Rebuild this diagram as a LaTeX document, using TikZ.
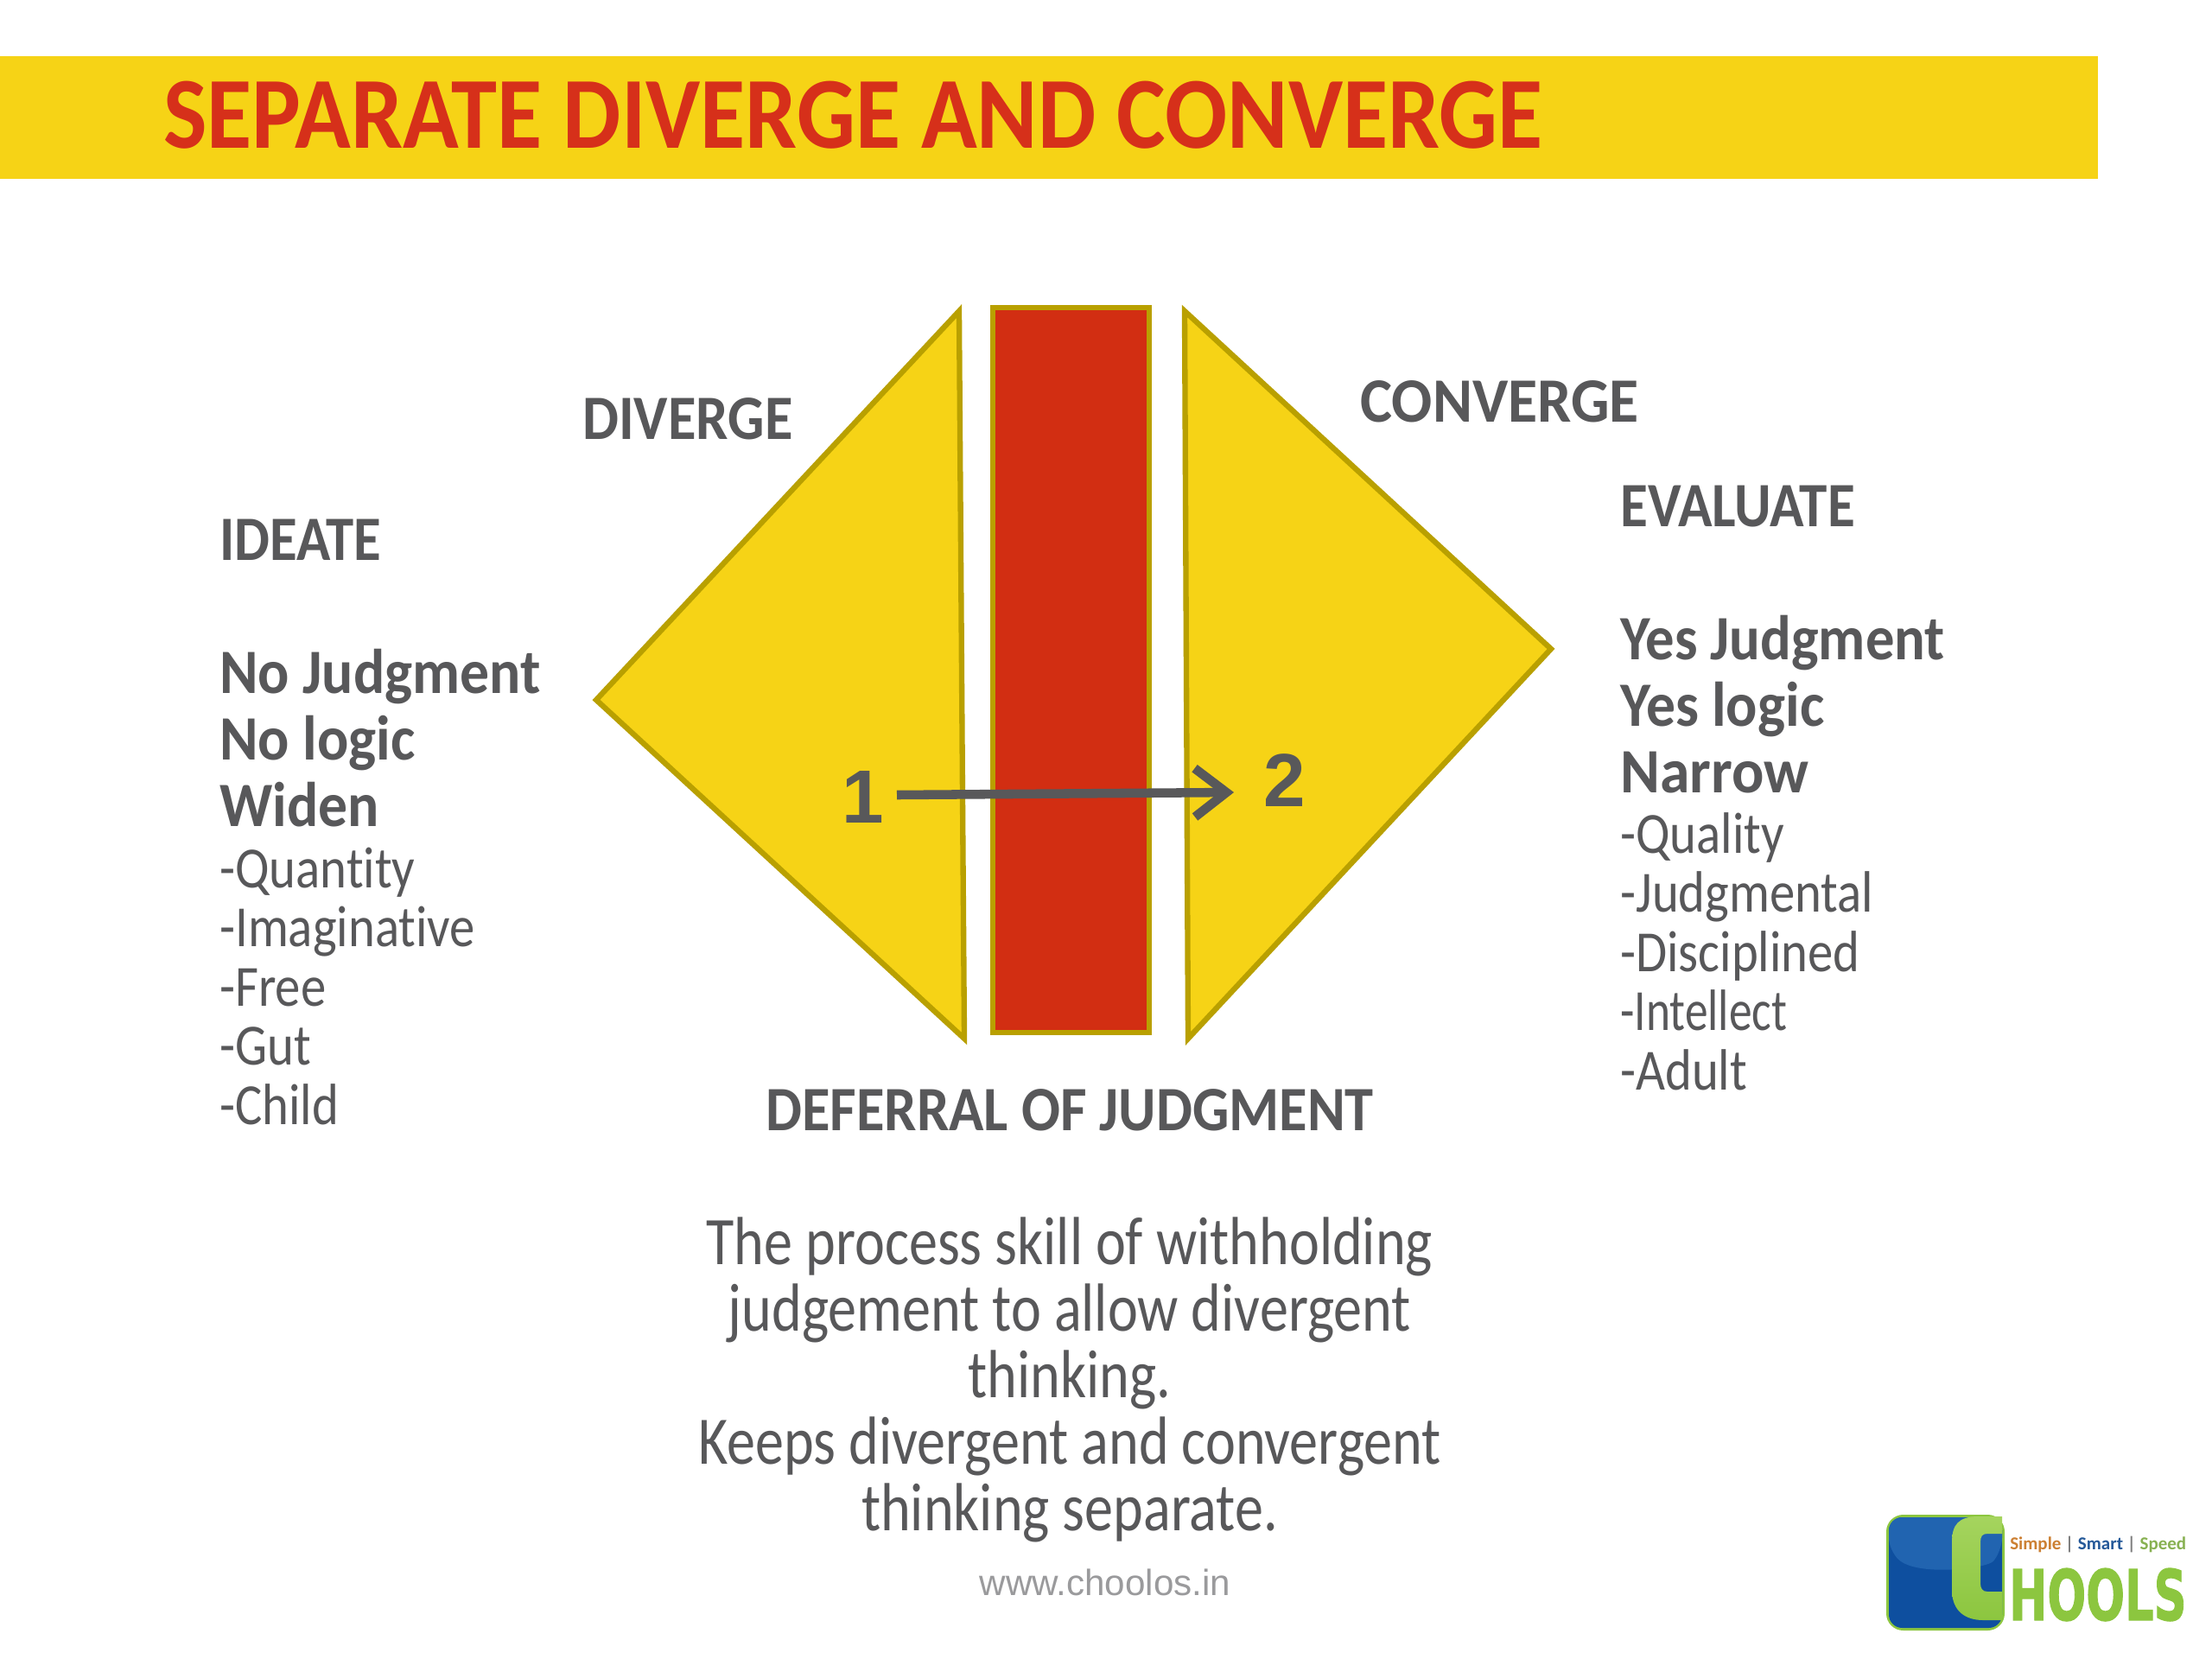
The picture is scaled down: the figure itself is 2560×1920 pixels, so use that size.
\documentclass[tikz,border=0pt]{standalone}
\usepackage{fontspec}
\usetikzlibrary{arrows.meta}
\setmainfont{Carlito}[Ligatures=NoCommon]
\newfontfamily\helv{Liberation Sans}
\newfontfamily\titlefont{Carlito Bold}[FakeStretch=0.904,Ligatures=NoCommon]
\newfontfamily\headfont{Carlito Bold}[FakeStretch=0.91,Ligatures=NoCommon]
\newfontfamily\mainfont{Carlito Bold}[FakeStretch=0.925,Ligatures=NoCommon]
\newfontfamily\subfont{Carlito}[FakeStretch=0.87,Ligatures=NoCommon]
\newfontfamily\parafont{Carlito}[FakeStretch=0.84,Ligatures=NoCommon]
\newfontfamily\logofont{DejaVu Sans Bold}[FakeBold=1.5]
\definecolor{ink}{HTML}{58585A}
\definecolor{banner}{HTML}{F6D316}
\definecolor{edgey}{HTML}{B9A000}
\definecolor{redbar}{HTML}{D22E12}
\definecolor{titlered}{HTML}{D6301A}
\definecolor{webgray}{HTML}{9A9A9C}
\definecolor{logoblue}{HTML}{0E4F9F}
\definecolor{logolight}{HTML}{2164B0}
\definecolor{logogreen}{HTML}{8CC63F}
\definecolor{logopale}{HTML}{A5D45E}
\tikzset{
 txt/.style={anchor=base west,inner sep=0pt,text=ink},
 head/.style={txt,font=\headfont\fontsize{52}{52}\selectfont},
 main/.style={txt,font=\mainfont\fontsize{52}{52}\selectfont},
 sub/.style={txt,font=\subfont\fontsize{48}{48}\selectfont},
 para/.style={anchor=base,inner sep=0pt,text=ink,font=\parafont\fontsize{56}{56}\selectfont},
 tri/.style={fill=banner,draw=edgey,line width=4.5pt,line join=miter,miter limit=20},
 num/.style={anchor=center,inner sep=0pt,text=ink,font=\helv\fontsize{62}{62}\selectfont\bfseries},
}
\begin{document}
\begin{tikzpicture}[x=0.025cm,y=-0.025cm]
\useasboundingbox[fill=white] (0,0) rectangle (2560,1920);
% banner
\fill[banner] (0,65) rectangle (2428,207);
\node[anchor=base west,inner sep=0pt,text=titlered,font=\titlefont\fontsize{84}{84}\selectfont] (title) at (189,171) {SEPARATE DIVERGE AND CONVERGE};
% shapes
\draw[tri] (1110,360) -- (690,810) -- (1116,1202) -- cycle;
\draw[tri] (1371,360) -- (1795,751) -- (1375,1202) -- cycle;
\draw[fill=redbar,draw=edgey,line width=4pt] (1149,356) rectangle (1330,1195);
% arrow
\node[num] (one) at (999,922) {1};
\node[num] (two) at (1487,903) {2};
\coordinate (arrowA) at (1038,920);
\coordinate (arrowB) at (1428,917);
\draw[draw=ink,line width=7.5pt,-{Straight Barb[length=26pt,width=40pt,line width=7.5pt]}] (arrowA) -- (arrowB);
% left
\node[head] (ideate) at (254,648) {\scalebox{0.975}[1]{IDEATE}};
\node[main] (l1) at (254,802) {No Judgment};
\node[main] (l2) at (254,879) {No logic};
\node[main] (l3) at (254,956) {Widen};
\node[sub] (l4) at (254,1027) {-Quantity};
\node[sub] (l5) at (254,1095) {-Imaginative};
\node[sub] (l6) at (254,1164) {-Free};
\node[sub] (l7) at (254,1232) {-Gut};
\node[sub] (l8) at (254,1301) {-Child};
% right
\node[head] (evaluate) at (1875,609) {\scalebox{0.98}[1]{EVALUATE}};
\node[main] (r1) at (1875,763) {\scalebox{0.985}[1]{Yes Judgment}};
\node[main] (r2) at (1875,840) {Yes logic};
\node[main] (r3) at (1875,917) {\scalebox{1.03}[1]{Narrow}};
\node[sub] (r4) at (1875,987) {-Quality};
\node[sub] (r5) at (1875,1055) {-Judgmental};
\node[sub] (r6) at (1875,1124) {-Disciplined};
\node[sub] (r7) at (1875,1192) {\scalebox{0.91}[1]{-Intellect}};
\node[sub] (r8) at (1875,1261) {-Adult};
% labels
\node[head] (diverge) at (674,508) {DIVERGE};
\node[head] (converge) at (1574,488) {\scalebox{1.05}[1]{CONVERGE}};
\node[head,anchor=base] (deferral) at (1238,1308) {DEFERRAL OF JUDGMENT};
% paragraph
\node[para] (p1) at (1238,1463) {The process skill of withholding};
\node[para] (p2) at (1238,1540) {judgement to allow divergent};
\node[para] (p3) at (1238,1617) {thinking.};
\node[para] (p4) at (1238,1694) {Keeps divergent and convergent};
\node[para] (p5) at (1238,1771) {thinking separate.};
\node[anchor=base,inner sep=0pt,text=webgray,font=\helv\fontsize{30}{30}\selectfont] (web) at (1279,1846) {www.choolos.in};
% logo
\fill[logogreen,rounded corners=14] (2183,1753) rectangle (2320,1887);
\fill[logoblue,rounded corners=11] (2186,1756) rectangle (2317,1884);
\fill[logolight,rounded corners=11] (2186,1756) -- (2317,1756) -- (2317,1795) .. controls (2300,1815) and (2220,1825) .. (2186,1795) -- cycle;
\path[top color=logopale,bottom color=logogreen] (2317,1755) -- (2290,1755) .. controls (2266,1755) and (2259,1765) .. (2259,1785) -- (2259,1840) .. controls (2259,1865) and (2275,1875) .. (2295,1875) -- (2317,1875) -- (2317,1842) -- (2300,1842) .. controls (2294,1842) and (2292,1838) .. (2292,1832) -- (2292,1785) .. controls (2292,1778) and (2294,1775) .. (2300,1775) -- (2317,1775) -- cycle;
\node[anchor=base west,inner sep=0pt,text=logogreen,font=\logofont] (hools) at (2325,1875) {\resizebox{146pt}{42.7pt}{HOOLS}};
\node[anchor=base west,inner sep=0pt,font=\bfseries] (tag) at (2326,1793) {\resizebox{145pt}{!}{\textcolor{orange!60!gray}{Simple} \textcolor{gray}{|} \textcolor{logoblue!80!gray}{Smart} \textcolor{gray}{|} \textcolor{logogreen!70!gray}{Speed}}};
\end{tikzpicture}
\end{document}
